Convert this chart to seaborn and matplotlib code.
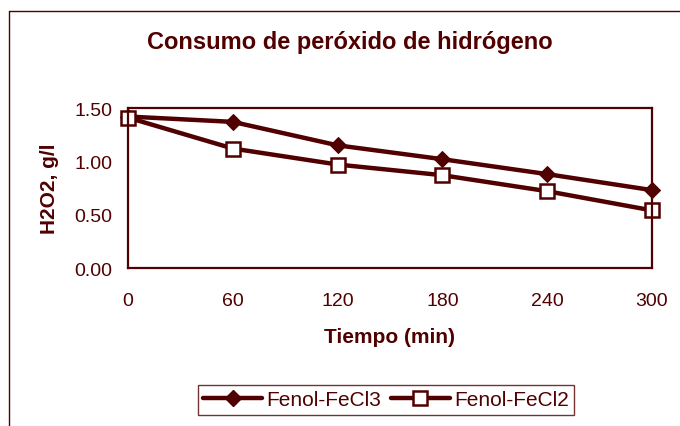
import matplotlib
matplotlib.use("Agg")
import matplotlib.pyplot as plt
from matplotlib.lines import Line2D
import seaborn as sns
import pandas as pd

tiempo = [0, 60, 120, 180, 240, 300]
fenol_fecl3 = [1.42, 1.37, 1.15, 1.02, 0.88, 0.73]
fenol_fecl2 = [1.41, 1.12, 0.97, 0.87, 0.72, 0.54]
series_names = ["Fenol-FeCl3", "Fenol-FeCl2"]
y_ticks = [0.0, 0.5, 1.0, 1.5]
x_ticks = [0, 60, 120, 180, 240, 300]

maroon = "#500000"

sns.set_theme(style="white")
plt.rcParams["font.family"] = ["Liberation Sans", "DejaVu Sans"]

df = pd.DataFrame({
    "Tiempo": tiempo * 2,
    "H2O2": fenol_fecl3 + fenol_fecl2,
    "Serie": [series_names[0]] * len(tiempo) + [series_names[1]] * len(tiempo),
})

fig = plt.figure(figsize=(6.8, 4.27), dpi=100)
ax = fig.add_axes([128 / 680, 1 - 269 / 427, (652 - 128) / 680, (269 - 109) / 427])

sns.lineplot(
    data=df, x="Tiempo", y="H2O2", hue="Serie", style="Serie",
    palette=[maroon, maroon], markers={series_names[0]: "D", series_names[1]: "s"},
    dashes=False, linewidth=3.2, ax=ax, legend=False,
)
lines = ax.get_lines()
lines[0].set_markersize(8.5)
lines[0].set_markerfacecolor(maroon)
lines[0].set_markeredgecolor(maroon)
lines[1].set_markersize(10)
lines[1].set_markerfacecolor("white")
lines[1].set_markeredgecolor(maroon)
lines[1].set_markeredgewidth(1.8)
for ln in lines:
    ln.set_clip_on(False)

ax.set_xlim(0, 300)
ax.set_ylim(0, 1.5)
ax.set_xticks(x_ticks)
ax.set_yticks(y_ticks)
ax.set_yticklabels([f"{v:.2f}" for v in y_ticks])
ax.tick_params(axis="both", direction="out", length=5, width=1.2, color=maroon,
               labelcolor=maroon, labelsize=14, pad=6)
ax.tick_params(axis="x", pad=12)
for sp in ax.spines.values():
    sp.set_color(maroon)
    sp.set_linewidth(1.6)

ax.set_xlabel("Tiempo (min)", fontsize=15, fontweight="bold", color=maroon, labelpad=13)
ax.set_ylabel("H2O2, g/l", fontsize=15, fontweight="bold", color=maroon, labelpad=11)

fig.text(350 / 680, 1 - 43 / 427, "Consumo de peróxido de hidrógeno", ha="center",
         va="center", fontsize=17, fontweight="bold", color=maroon)

handles = [
    Line2D([], [], color=maroon, lw=3.2, marker="D", markersize=8.5,
           markerfacecolor=maroon, markeredgecolor=maroon),
    Line2D([], [], color=maroon, lw=3.2, marker="s", markersize=10,
           markerfacecolor="white", markeredgecolor=maroon, markeredgewidth=1.8),
]
leg = fig.legend(handles, series_names, loc="center", bbox_to_anchor=(386 / 680, 1 - 401 / 427),
                 ncol=2, frameon=True, fancybox=False, fontsize=15, handlelength=2.8,
                 columnspacing=0.5, handletextpad=0.2, borderpad=0.25, borderaxespad=0)
leg.get_frame().set_edgecolor(maroon)
leg.get_frame().set_linewidth(1.0)
for t in leg.get_texts():
    t.set_color(maroon)

# outer chart frame (open on the right and bottom)
fig.add_artist(Line2D([9 / 680, 9 / 680], [0, 1 - 12 / 427], transform=fig.transFigure,
                      color=maroon, lw=1.0))
fig.add_artist(Line2D([9 / 680, 1], [1 - 12 / 427, 1 - 12 / 427], transform=fig.transFigure,
                      color=maroon, lw=1.0))

fig.savefig("out.png", dpi=100)
